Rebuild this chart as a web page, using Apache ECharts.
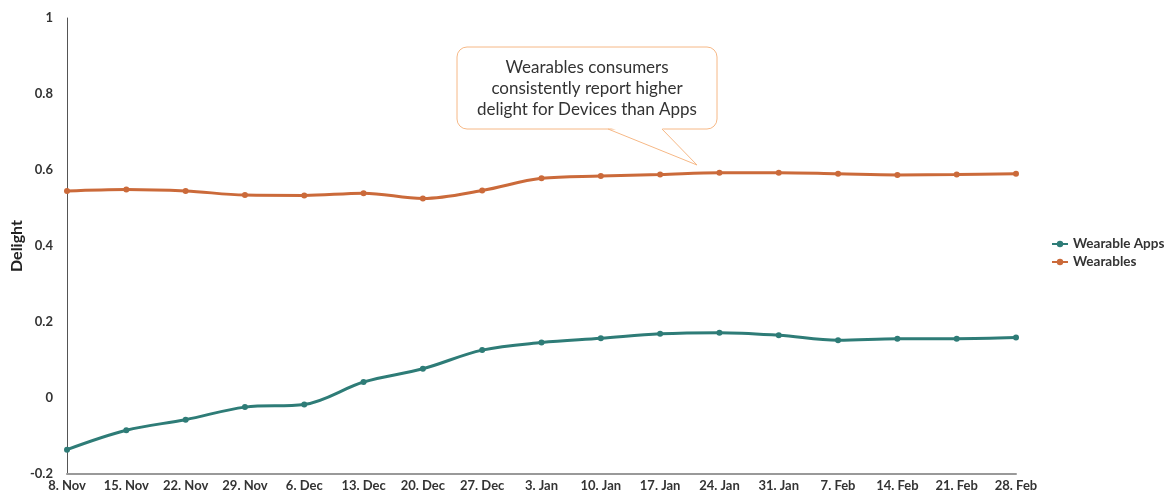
<!DOCTYPE html>
<html>
<head>
<meta charset="utf-8">
<script src="https://cdn.jsdelivr.net/npm/echarts@6/dist/echarts.min.js"></script>
<style>
  html, body { margin: 0; padding: 0; background: #fff; }
  #chart { width: 1166px; height: 493px; }
</style>
</head>
<body>
<div id="chart"></div>
<script>
// weekly dates
const weeks = ['8. Nov', '15. Nov', '22. Nov', '29. Nov', '6. Dec', '13. Dec', '20. Dec', '27. Dec',
  '3. Jan', '10. Jan', '17. Jan', '24. Jan', '31. Jan', '7. Feb', '14. Feb', '21. Feb', '28. Feb'];

const wearableApps = [-0.136, -0.085, -0.057, -0.024, -0.017, 0.042, 0.077, 0.126,
  0.146, 0.157, 0.169, 0.172, 0.165, 0.152, 0.156, 0.156, 0.159];

const wearables = [0.545, 0.549, 0.545, 0.534, 0.533, 0.539, 0.525, 0.546,
  0.578, 0.584, 0.588, 0.593, 0.593, 0.590, 0.587, 0.588, 0.590];

const noteLines = ['Wearables consumers', 'consistently report higher', 'delight for Devices than Apps'];

const font = 'Lato, "Open Sans", sans-serif';
const calloutStroke = '#F6B886';

const chart = echarts.init(document.getElementById('chart'));

const option = {
  animation: false,
  textStyle: { fontFamily: font },
  grid: { left: 67, right: 150, top: 18, bottom: 19, containLabel: false, outerBoundsMode: 'none' },
  legend: {
    orient: 'vertical',
    left: 1046,
    top: 232,
    itemWidth: 16,
    itemHeight: 8,
    itemGap: 4,
    textStyle: { fontFamily: font, fontSize: 13.5, fontWeight: 'bold', color: '#333' },
    data: ['Wearable Apps', 'Wearables']
  },
  xAxis: {
    type: 'category',
    data: weeks,
    boundaryGap: false,
    axisLine: { onZero: false, lineStyle: { color: '#999', width: 2 } },
    axisTick: { show: false },
    axisLabel: { color: '#333', fontWeight: 'bold', fontSize: 13, margin: 5, interval: 0 }
  },
  yAxis: {
    type: 'value',
    min: -0.2,
    max: 1,
    interval: 0.2,
    name: 'Delight',
    nameLocation: 'middle',
    nameGap: 42,
    nameMoveOverlap: false,
    nameTextStyle: { color: '#222', fontWeight: 'bold', fontSize: 16, fontFamily: font },
    splitLine: { show: false },
    axisTick: { show: false },
    axisLine: { show: true, lineStyle: { color: '#555', width: 1 } },
    axisLabel: {
      color: '#333', fontWeight: 'bold', fontSize: 13, margin: 14,
      formatter: v => String(Math.round(v * 10) / 10)
    }
  },
  series: [
    {
      name: 'Wearable Apps',
      type: 'line',
      data: wearableApps,
      smooth: 0.35,
      symbol: 'circle',
      symbolSize: 6,
      lineStyle: { width: 3, color: '#2E7C77' },
      itemStyle: { color: '#2E7C77' }
    },
    {
      name: 'Wearables',
      type: 'line',
      data: wearables,
      smooth: 0.35,
      symbol: 'circle',
      symbolSize: 6,
      lineStyle: { width: 3, color: '#CB6A3A' },
      itemStyle: { color: '#CB6A3A' }
    }
  ],
  graphic: [
    // callout box
    {
      type: 'rect',
      shape: { x: 457, y: 47, width: 260, height: 82, r: 10 },
      style: { fill: '#fff', stroke: calloutStroke, lineWidth: 1 },
      z: 10
    },
    {
      type: 'polygon',
      shape: { points: [[609, 127], [661, 127], [697, 165]] },
      style: { fill: '#fff' },
      z: 11
    },
    {
      type: 'polyline',
      shape: { points: [[608, 129], [697, 165], [662, 129]] },
      style: { stroke: calloutStroke, lineWidth: 1, fill: null },
      z: 12
    },
    {
      type: 'text',
      x: 587,
      y: 57,
      style: {
        text: noteLines.join('\n'),
        align: 'center',
        fontFamily: font,
        fontSize: 17,
        lineHeight: 21,
        fill: '#333'
      },
      z: 13
    }
  ]
};

chart.setOption(option);
</script>
</body>
</html>
